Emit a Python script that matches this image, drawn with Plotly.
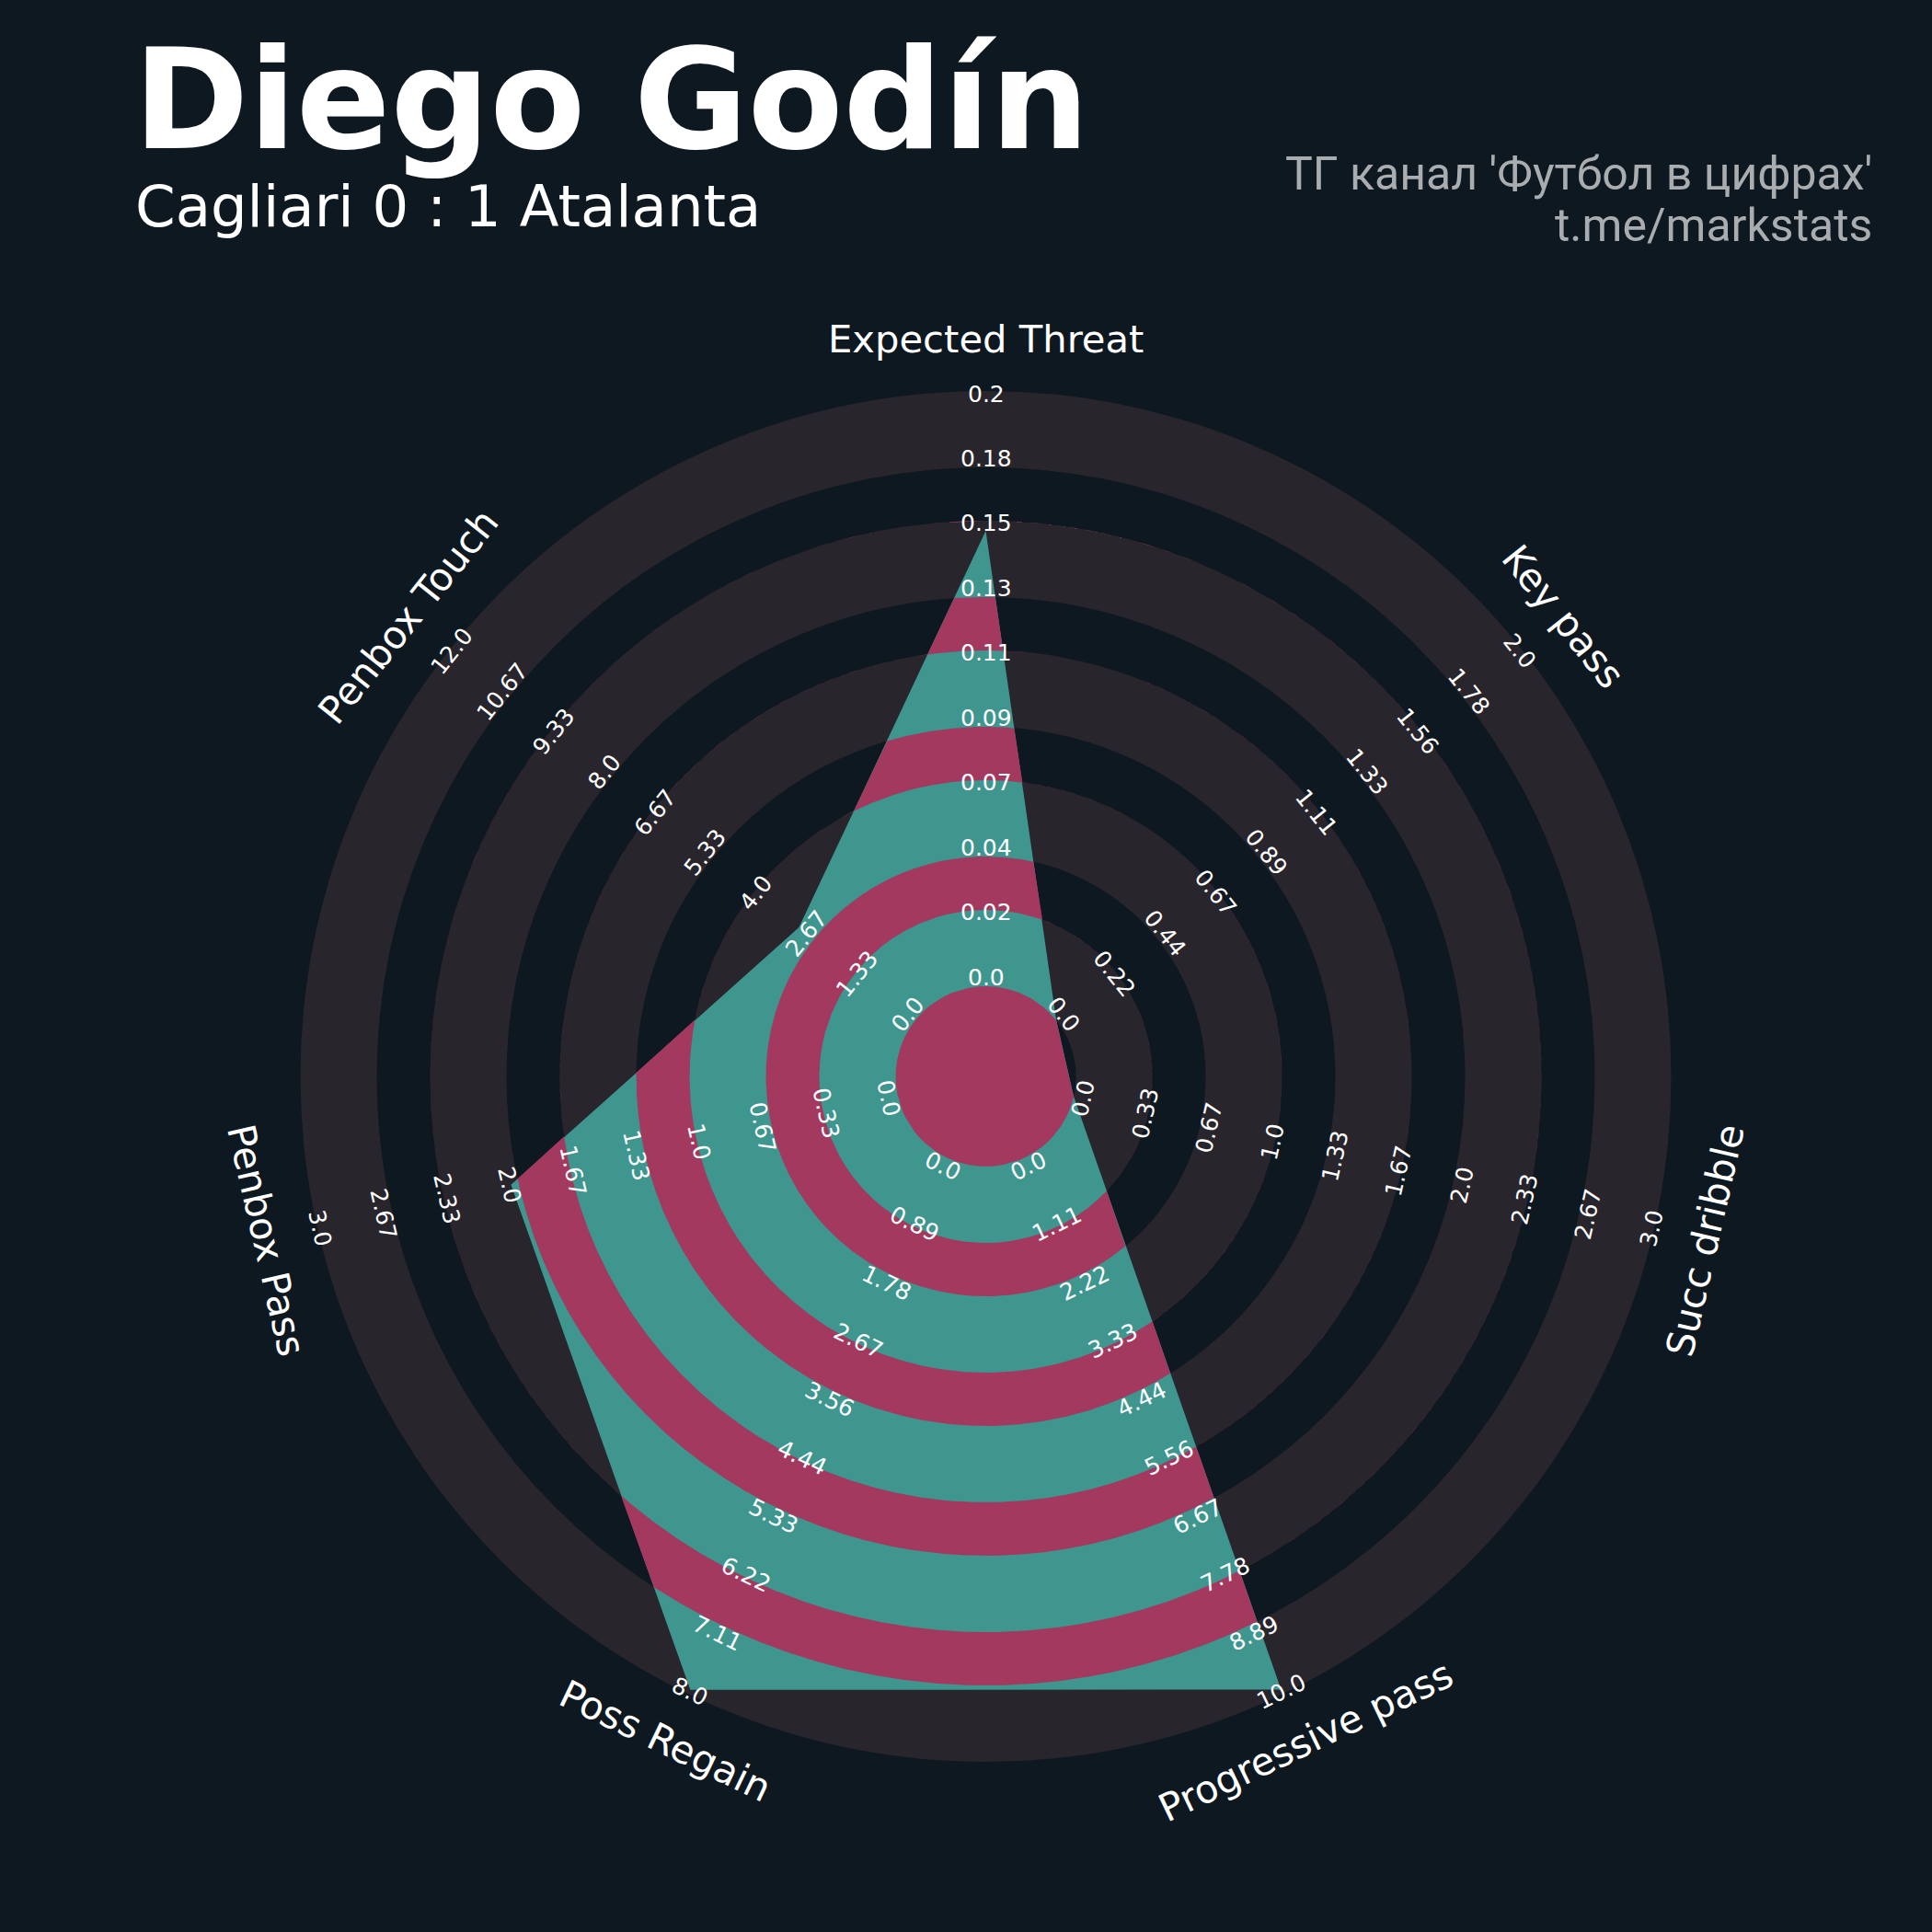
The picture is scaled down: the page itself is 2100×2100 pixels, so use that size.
import numpy as np
import plotly.graph_objects as go

# ---------------- data ----------------
params = ["Expected Threat", "Key pass", "Succ dribble", "Progressive pass",
          "Poss Regain", "Penbox Pass", "Penbox Touch"]
values = [0.153, 0, 0, 9.92, 7.94, 2, 3]
low = [0, 0, 0, 0, 0, 0, 0]
high = [0.2, 2, 3, 10, 8, 3, 12]

labels_xt = ["0.0", "0.02", "0.04", "0.07", "0.09", "0.11", "0.13", "0.15", "0.18", "0.2"]
labels_kp = ["0.0", "0.22", "0.44", "0.67", "0.89", "1.11", "1.33", "1.56", "1.78", "2.0"]
labels_sd = ["0.0", "0.33", "0.67", "1.0", "1.33", "1.67", "2.0", "2.33", "2.67", "3.0"]
labels_pp = ["0.0", "1.11", "2.22", "3.33", "4.44", "5.56", "6.67", "7.78", "8.89", "10.0"]
labels_pr = ["0.0", "0.89", "1.78", "2.67", "3.56", "4.44", "5.33", "6.22", "7.11", "8.0"]
labels_pbp = ["0.0", "0.33", "0.67", "1.0", "1.33", "1.67", "2.0", "2.33", "2.67", "3.0"]
labels_pbt = ["0.0", "1.33", "2.67", "4.0", "5.33", "6.67", "8.0", "9.33", "10.67", "12.0"]
range_labels = [labels_xt, labels_kp, labels_sd, labels_pp, labels_pr, labels_pbp, labels_pbt]

title = "Diego Godín"
subtitle = "Cagliari 0 : 1 Atalanta"
credit1 = "ТГ канал 'Футбол в цифрах'"
credit2 = "t.me/markstats"

# ---------------- style / geometry ----------------
W = H = 2100
CX, CY = 1071.5, 1170.0          # centre of radar in pixels (from top-left)
R_IN = 98.0                      # centre circle radius
R_OUT = 745.0                    # outer radius
GAP = 58.0
RING = (R_OUT - R_IN - 4 * GAP) / 5
LABEL_R0, LABEL_R1 = 108.0, 742.0
PARAM_R = 802.0

BG = "#0e1820"
GREY = "#28252c"
TEAL = "#3e968f"
CRIMSON = "#a3395f"
FONT = "DejaVu Sans"

edges = [R_IN]
for i in range(9):
    edges.append(edges[-1] + (RING if i % 2 == 0 else GAP))
gap_rings = [(edges[i], edges[i + 1]) for i in range(1, 9, 2)]

n = len(params)
ang = np.arange(n) * 2 * np.pi / n
v = np.asarray(values, float)
lo = np.asarray(low, float)
hi = np.asarray(high, float)
rad = R_IN + (v - lo) / (hi - lo) * (R_OUT - R_IN)
vx = rad * np.sin(ang)
vy = rad * np.cos(ang)

phi = np.unique(np.concatenate([np.linspace(0, 2 * np.pi, 4001), ang, [2 * np.pi]]))


def poly_radius(phi):
    out = np.zeros_like(phi)
    for i in range(n):
        a1 = ang[i]
        a2 = ang[i + 1] if i + 1 < n else 2 * np.pi
        j = (i + 1) % n
        p1 = np.array([vx[i], vy[i]])
        e = np.array([vx[j] - vx[i], vy[j] - vy[i]])
        m = (phi >= a1 - 1e-12) & (phi <= a2 + 1e-12)
        dx, dy = np.sin(phi[m]), np.cos(phi[m])
        num = p1[0] * e[1] - p1[1] * e[0]
        den = dx * e[1] - dy * e[0]
        out[m] = num / den
    return out


rho = poly_radius(phi)

fig = go.Figure()

# radar polygon (teal)
fig.add_trace(go.Scatter(x=np.append(vx, vx[0]), y=np.append(vy, vy[0]), mode="lines",
                         fill="toself", fillcolor=TEAL, line=dict(width=0),
                         hoverinfo="skip", showlegend=False))

# crimson centre disk clipped to polygon
rc = np.minimum(rho, R_IN)
fig.add_trace(go.Scatter(x=rc * np.sin(phi), y=rc * np.cos(phi), mode="lines",
                         fill="toself", fillcolor=CRIMSON, line=dict(width=0),
                         hoverinfo="skip", showlegend=False))
# crimson rings clipped to polygon
for a, b in gap_rings:
    ro = np.clip(rho, a, b)
    xs = np.concatenate([ro * np.sin(phi), a * np.sin(phi[::-1])])
    ys = np.concatenate([ro * np.cos(phi), a * np.cos(phi[::-1])])
    fig.add_trace(go.Scatter(x=xs, y=ys, mode="lines", fill="toself", fillcolor=CRIMSON,
                             line=dict(width=0), hoverinfo="skip", showlegend=False))

# background rings as shapes
shapes = []
for i in range(len(edges) - 1, -1, -1):
    r = edges[i]
    col = GREY if i % 2 == 1 else BG
    shapes.append(dict(type="circle", xref="x", yref="y", x0=-r, x1=r, y0=-r, y1=r,
                       fillcolor=col, line=dict(width=0), layer="below"))


def text_angle(deg):
    if 90 < deg < 270:
        return deg - 180
    if deg >= 270:
        return deg - 360
    return deg


annotations = []
label_r = [LABEL_R0 + k * (LABEL_R1 - LABEL_R0) / 9 for k in range(10)]
for i in range(n):
    deg = np.degrees(ang[i])
    ta = text_angle(deg)
    for k, txt in enumerate(range_labels[i]):
        r = label_r[k]
        annotations.append(dict(x=r * np.sin(ang[i]), y=r * np.cos(ang[i]), xref="x", yref="y",
                                text=txt, showarrow=False, textangle=ta,
                                font=dict(family=FONT, size=25, color="white"),
                                xanchor="center", yanchor="middle"))
    annotations.append(dict(x=PARAM_R * np.sin(ang[i]), y=PARAM_R * np.cos(ang[i]),
                            xref="x", yref="y",
                            text=params[i], showarrow=False, textangle=ta,
                            font=dict(family=FONT, size=41.7, color="white"),
                            xanchor="center", yanchor="middle"))


def py(p):
    return 1 - p / H


annotations.append(dict(x=144 / W, y=py(109), xref="paper", yref="paper", text=title,
                        showarrow=False, xanchor="left", yanchor="middle", borderpad=0,
                        font=dict(family=FONT, size=151, color="white", weight="bold")))
annotations.append(dict(x=146 / W, y=py(224), xref="paper", yref="paper", text=subtitle,
                        showarrow=False, xanchor="left", yanchor="middle", borderpad=0,
                        font=dict(family=FONT, size=62.5, color="white")))
annotations.append(dict(x=2037 / W, y=py(189), xref="paper", yref="paper", text=credit1,
                        showarrow=False, xanchor="right", yanchor="middle",
                        font=dict(family="Roboto", size=50, color="#aaadb0")))
annotations.append(dict(x=2037 / W, y=py(245), xref="paper", yref="paper", text=credit2,
                        showarrow=False, xanchor="right", yanchor="middle",
                        font=dict(family="Roboto", size=50, color="#aaadb0")))

fig.update_layout(
    width=W, height=H, margin=dict(l=0, r=0, t=0, b=0),
    paper_bgcolor=BG, plot_bgcolor=BG,
    xaxis=dict(range=[-CX, W - CX], visible=False, fixedrange=True),
    yaxis=dict(range=[-(H - CY), CY], visible=False, fixedrange=True),
    shapes=shapes, annotations=annotations, showlegend=False,
)

fig.write_html("out.html", config={"displayModeBar": False},
               post_script="document.body.style.margin='0';")
